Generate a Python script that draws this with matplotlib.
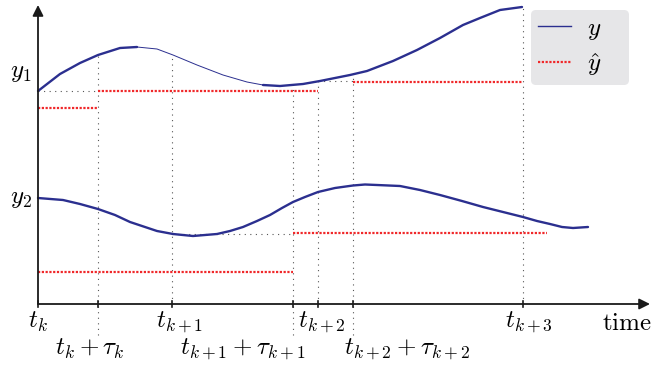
import matplotlib
matplotlib.use('Agg')
import matplotlib.pyplot as plt
import numpy as np
from matplotlib.lines import Line2D

plt.rcParams['mathtext.fontset'] = 'cm'
plt.rcParams['font.family'] = 'serif'

# sample instants (arbitrary time units, t_k = 0)
t_marks = [0.0, 1.34, 2.80, 4.85]
t_delayed = [0.60, 2.55, 3.15]
t_labels = [r'$t_k$', r'$t_{k+1}$', r'$t_{k+2}$', r'$t_{k+3}$']
tau_labels = [r'$t_k+\tau_k$', r'$t_{k+1}+\tau_{k+1}$', r'$t_{k+2}+\tau_{k+2}$']

# true outputs
y1_t = [0.00, 0.22, 0.42, 0.60, 0.82, 0.99, 1.19, 1.35, 1.59, 1.85, 2.09, 2.25, 2.42,
        2.65, 2.82, 3.12, 3.29, 3.55, 3.79, 4.02, 4.25, 4.42, 4.62, 4.84]
y1_v = [2.13, 2.30, 2.41, 2.49, 2.56, 2.57, 2.55, 2.49, 2.39, 2.29, 2.22, 2.19, 2.18,
        2.20, 2.23, 2.29, 2.33, 2.43, 2.54, 2.66, 2.79, 2.86, 2.94, 2.97]
y2_t = [0.00, 0.25, 0.42, 0.60, 0.77, 0.92, 1.07, 1.19, 1.35, 1.55, 1.79, 1.92,
        2.05, 2.19, 2.32, 2.44, 2.55, 2.67, 2.80, 2.97, 3.15, 3.27, 3.39, 3.62,
        3.82, 4.02, 4.24, 4.45, 4.65, 4.85, 4.99, 5.12, 5.24, 5.35, 5.50]
y2_v = [1.06, 1.04, 1.00, 0.95, 0.89, 0.82, 0.77, 0.73, 0.70, 0.68, 0.70, 0.73,
        0.77, 0.83, 0.89, 0.96, 1.02, 1.07, 1.12, 1.16, 1.185, 1.195, 1.19, 1.18,
        1.14, 1.09, 1.03, 0.97, 0.92, 0.87, 0.83, 0.80, 0.77, 0.76, 0.77]

# held estimates (start, end, value)
yhat1 = [(0.00, 0.60, 1.96), (0.60, 2.80, 2.13), (3.15, 4.85, 2.22)]
yhat2 = [(0.00, 2.55, 0.32), (2.55, 5.09, 0.71)]

# guides: (t_sample, t_arrival, value)
hold_guides = [(0.00, 0.60, 2.13), (2.80, 3.15, 2.23), (1.34, 2.55, 0.70)]

blue = '#2b2f8f'
red = '#f0282a'
gray = '#555555'

fig = plt.figure(figsize=(6.52, 3.67), dpi=100)
ax = fig.add_axes([0, 0, 1, 1])
ax.set_xlim(-0.38, 6.14)
ax.set_ylim(-0.63, 3.04)
ax.axis('off')

dot = dict(color=gray, lw=0.8, linestyle=(0, (1, 4)))

# vertical guides
for t in t_marks[1:]:
    top = np.interp(t, y1_t, y1_v)
    ax.plot([t, t], [0, top], **dot)
for t in t_delayed:
    top = np.interp(t, y1_t, y1_v)
    ax.plot([t, t], [-0.31, top], **dot)
for a, b, v in hold_guides:
    ax.plot([a, b], [v, v], **dot)

# estimates
for segs in (yhat1, yhat2):
    for a, b, v in segs:
        ax.plot([a, b], [v, v], color=red, lw=1.6, linestyle=(0, (1, 0.7)))

# y1 with thinner middle stretch
y1_t = np.array(y1_t)
y1_v = np.array(y1_v)
i0, i1 = 5, 11
ax.plot(y1_t[:i0 + 1], y1_v[:i0 + 1], color=blue, lw=1.7, solid_capstyle='round')
ax.plot(y1_t[i0:i1 + 1], y1_v[i0:i1 + 1], color=blue, lw=0.7)
ax.plot(y1_t[i1:], y1_v[i1:], color=blue, lw=1.7, solid_capstyle='round')
ax.plot(y2_t, y2_v, color=blue, lw=1.7, solid_capstyle='round', solid_joinstyle='round')

# axes with arrows
arr = dict(arrowstyle='-|>', color='#1a1a1a', lw=1.3, mutation_scale=16,
           shrinkA=0, shrinkB=0)
ax.annotate('', xy=(6.12, 0), xytext=(0, 0), arrowprops=arr)
ax.annotate('', xy=(0, 2.99), xytext=(0, 0), arrowprops=arr)
for t in t_marks + t_delayed:
    ax.plot([t, t], [-0.03, 0.03], color='#1a1a1a', lw=1.2)

fs = 18
t_label_x = [0.0, 1.42, 2.84, 4.91]
tau_label_x = [0.52, 2.05, 3.69]
for x, lab in zip(t_label_x, t_labels):
    ax.text(x, -0.18, lab, ha='center', va='center', fontsize=fs)
for x, lab in zip(tau_label_x, tau_labels):
    ax.text(x, -0.45, lab, ha='center', va='center', fontsize=fs)
ax.text(5.89, -0.19, r'$\mathrm{time}$', ha='center', va='center', fontsize=fs)
ax.text(-0.17, 2.32, r'$y_1$', ha='center', va='center', fontsize=fs)
ax.text(-0.17, 1.06, r'$y_2$', ha='center', va='center', fontsize=fs)

handles = [Line2D([], [], color=blue, lw=1.0),
           Line2D([], [], color=red, lw=1.6, linestyle=(0, (1, 0.7)))]
leg = ax.legend(handles, [r'$y$', r'$\hat{y}$'], loc='upper left',
                bbox_to_anchor=(531 / 652, 1 - 84 / 367, 98 / 652, 74 / 367),
                mode='expand', fontsize=fs,
                frameon=True, fancybox=True, facecolor='#e6e6e8', edgecolor='none',
                framealpha=1, handlelength=1.3, handletextpad=0.65,
                borderpad=0.28, labelspacing=0.36, borderaxespad=0)

fig.savefig('out.png', dpi=100)
